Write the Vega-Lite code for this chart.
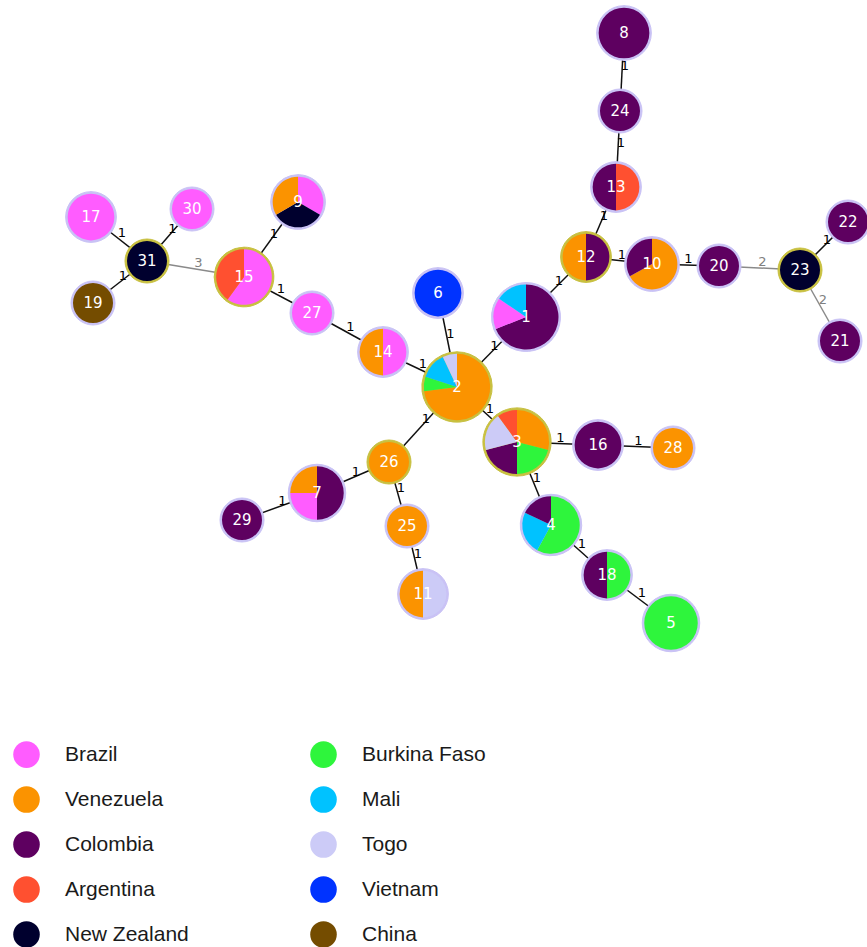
{
  "$schema": "https://vega.github.io/schema/vega-lite/v6.json",
  "width": 867,
  "height": 947,
  "padding": 0,
  "autosize": {"type": "none"},
  "background": "white",
  "config": {"view": {"stroke": null}},
  "resolve": {"scale": {"radius": "independent"}},
  "datasets": {
    "nodes": [
      {"id": 1, "x": 526, "y": 317, "n": 13, "b": "plain"},
      {"id": 2, "x": 457, "y": 387, "n": 15, "b": "group"},
      {"id": 3, "x": 517, "y": 442, "n": 12, "b": "group"},
      {"id": 4, "x": 551, "y": 525, "n": 6, "b": "plain"},
      {"id": 5, "x": 671, "y": 623, "n": 4, "b": "plain"},
      {"id": 6, "x": 438, "y": 293, "n": 2, "b": "plain"},
      {"id": 7, "x": 317, "y": 493, "n": 4, "b": "plain"},
      {"id": 8, "x": 624, "y": 33, "n": 3, "b": "plain"},
      {"id": 9, "x": 298, "y": 202, "n": 3, "b": "plain"},
      {"id": 10, "x": 652, "y": 264, "n": 3, "b": "plain"},
      {"id": 11, "x": 423, "y": 594, "n": 2, "b": "plain"},
      {"id": 12, "x": 586, "y": 257, "n": 2, "b": "group"},
      {"id": 13, "x": 616, "y": 187, "n": 2, "b": "plain"},
      {"id": 14, "x": 383, "y": 352, "n": 2, "b": "plain"},
      {"id": 15, "x": 244, "y": 277, "n": 5, "b": "group"},
      {"id": 16, "x": 598, "y": 445, "n": 2, "b": "plain"},
      {"id": 17, "x": 91, "y": 217, "n": 2, "b": "plain"},
      {"id": 18, "x": 607, "y": 575, "n": 2, "b": "plain"},
      {"id": 19, "x": 93, "y": 303, "n": 1, "b": "plain"},
      {"id": 20, "x": 719, "y": 266, "n": 1, "b": "plain"},
      {"id": 21, "x": 840, "y": 341, "n": 1, "b": "plain"},
      {"id": 22, "x": 848, "y": 222, "n": 1, "b": "plain"},
      {"id": 23, "x": 800, "y": 270, "n": 1, "b": "group"},
      {"id": 24, "x": 620, "y": 111, "n": 1, "b": "plain"},
      {"id": 25, "x": 407, "y": 526, "n": 1, "b": "plain"},
      {"id": 26, "x": 389, "y": 462, "n": 1, "b": "group"},
      {"id": 27, "x": 312, "y": 313, "n": 1, "b": "plain"},
      {"id": 28, "x": 673, "y": 448, "n": 1, "b": "plain"},
      {"id": 29, "x": 242, "y": 520, "n": 1, "b": "plain"},
      {"id": 30, "x": 192, "y": 209, "n": 1, "b": "plain"},
      {"id": 31, "x": 147, "y": 261, "n": 1, "b": "group"}
    ],
    "slices": [
      {"node": 1, "o": 1, "country": "Colombia", "pct": 69},
      {"node": 1, "o": 2, "country": "Brazil", "pct": 15.5},
      {"node": 1, "o": 3, "country": "Mali", "pct": 15.5},
      {"node": 2, "o": 1, "country": "Venezuela", "pct": 73},
      {"node": 2, "o": 2, "country": "Burkina Faso", "pct": 7},
      {"node": 2, "o": 3, "country": "Mali", "pct": 13},
      {"node": 2, "o": 4, "country": "Togo", "pct": 7},
      {"node": 3, "o": 1, "country": "Venezuela", "pct": 29},
      {"node": 3, "o": 2, "country": "Burkina Faso", "pct": 21},
      {"node": 3, "o": 3, "country": "Colombia", "pct": 21},
      {"node": 3, "o": 4, "country": "Togo", "pct": 19},
      {"node": 3, "o": 5, "country": "Argentina", "pct": 10},
      {"node": 4, "o": 1, "country": "Burkina Faso", "pct": 58},
      {"node": 4, "o": 2, "country": "Mali", "pct": 24},
      {"node": 4, "o": 3, "country": "Colombia", "pct": 18},
      {"node": 5, "o": 1, "country": "Burkina Faso", "pct": 100},
      {"node": 6, "o": 1, "country": "Vietnam", "pct": 100},
      {"node": 7, "o": 1, "country": "Colombia", "pct": 50},
      {"node": 7, "o": 2, "country": "Brazil", "pct": 25},
      {"node": 7, "o": 3, "country": "Venezuela", "pct": 25},
      {"node": 8, "o": 1, "country": "Colombia", "pct": 100},
      {"node": 9, "o": 1, "country": "Brazil", "pct": 33.3},
      {"node": 9, "o": 2, "country": "New Zealand", "pct": 33.3},
      {"node": 9, "o": 3, "country": "Venezuela", "pct": 33.4},
      {"node": 10, "o": 1, "country": "Venezuela", "pct": 67},
      {"node": 10, "o": 2, "country": "Colombia", "pct": 33},
      {"node": 11, "o": 1, "country": "Togo", "pct": 50},
      {"node": 11, "o": 2, "country": "Venezuela", "pct": 50},
      {"node": 12, "o": 1, "country": "Colombia", "pct": 50},
      {"node": 12, "o": 2, "country": "Venezuela", "pct": 50},
      {"node": 13, "o": 1, "country": "Argentina", "pct": 50},
      {"node": 13, "o": 2, "country": "Colombia", "pct": 50},
      {"node": 14, "o": 1, "country": "Brazil", "pct": 50},
      {"node": 14, "o": 2, "country": "Venezuela", "pct": 50},
      {"node": 15, "o": 1, "country": "Brazil", "pct": 60},
      {"node": 15, "o": 2, "country": "Argentina", "pct": 40},
      {"node": 16, "o": 1, "country": "Colombia", "pct": 100},
      {"node": 17, "o": 1, "country": "Brazil", "pct": 100},
      {"node": 18, "o": 1, "country": "Burkina Faso", "pct": 50},
      {"node": 18, "o": 2, "country": "Colombia", "pct": 50},
      {"node": 19, "o": 1, "country": "China", "pct": 100},
      {"node": 20, "o": 1, "country": "Colombia", "pct": 100},
      {"node": 21, "o": 1, "country": "Colombia", "pct": 100},
      {"node": 22, "o": 1, "country": "Colombia", "pct": 100},
      {"node": 23, "o": 1, "country": "New Zealand", "pct": 100},
      {"node": 24, "o": 1, "country": "Colombia", "pct": 100},
      {"node": 25, "o": 1, "country": "Venezuela", "pct": 100},
      {"node": 26, "o": 1, "country": "Venezuela", "pct": 100},
      {"node": 27, "o": 1, "country": "Brazil", "pct": 100},
      {"node": 28, "o": 1, "country": "Venezuela", "pct": 100},
      {"node": 29, "o": 1, "country": "Colombia", "pct": 100},
      {"node": 30, "o": 1, "country": "Brazil", "pct": 100},
      {"node": 31, "o": 1, "country": "New Zealand", "pct": 100}
    ],
    "edges": [
      {"s": 8, "t": 24, "d": 1},
      {"s": 24, "t": 13, "d": 1},
      {"s": 13, "t": 12, "d": 1},
      {"s": 12, "t": 1, "d": 1},
      {"s": 12, "t": 10, "d": 1},
      {"s": 10, "t": 20, "d": 1},
      {"s": 20, "t": 23, "d": 2},
      {"s": 23, "t": 22, "d": 1},
      {"s": 23, "t": 21, "d": 2},
      {"s": 1, "t": 2, "d": 1},
      {"s": 6, "t": 2, "d": 1},
      {"s": 14, "t": 2, "d": 1},
      {"s": 27, "t": 14, "d": 1},
      {"s": 15, "t": 27, "d": 1},
      {"s": 15, "t": 9, "d": 1},
      {"s": 31, "t": 15, "d": 3},
      {"s": 17, "t": 31, "d": 1},
      {"s": 30, "t": 31, "d": 1},
      {"s": 19, "t": 31, "d": 1},
      {"s": 2, "t": 3, "d": 1},
      {"s": 2, "t": 26, "d": 1},
      {"s": 26, "t": 7, "d": 1},
      {"s": 29, "t": 7, "d": 1},
      {"s": 26, "t": 25, "d": 1},
      {"s": 25, "t": 11, "d": 1},
      {"s": 3, "t": 16, "d": 1},
      {"s": 16, "t": 28, "d": 1},
      {"s": 3, "t": 4, "d": 1},
      {"s": 4, "t": 18, "d": 1},
      {"s": 18, "t": 5, "d": 1}
    ]
  },
  "layer": [
    {
      "data": {"name": "edges"},
      "transform": [
        {"fold": ["s", "t"], "as": ["end", "node"]},
        {"lookup": "node", "from": {"data": {"name": "nodes"}, "key": "id", "fields": ["x", "y"]}}
      ],
      "mark": {"type": "line", "strokeWidth": 1.5},
      "encoding": {
        "x": {"field": "x", "type": "quantitative", "scale": {"domain": [0, 867], "nice": false, "zero": false}, "axis": null},
        "y": {"field": "y", "type": "quantitative", "scale": {"domain": [0, 947], "reverse": true, "nice": false, "zero": false}, "axis": null},
        "detail": [{"field": "s"}, {"field": "t"}],
        "order": {"field": "end"},
        "stroke": {"condition": {"test": "datum.d > 1", "value": "#8a8a8a"}, "value": "#111111"}
      }
    },
    {
      "data": {"name": "edges"},
      "transform": [
        {"fold": ["s", "t"], "as": ["end", "node"]},
        {"lookup": "node", "from": {"data": {"name": "nodes"}, "key": "id", "fields": ["x", "y"]}},
        {"aggregate": [{"op": "mean", "field": "x", "as": "mx"}, {"op": "mean", "field": "y", "as": "my"}], "groupby": ["s", "t", "d"]}
      ],
      "mark": {"type": "text", "font": "DejaVu Sans", "fontSize": 13, "dx": 3, "dy": -6},
      "encoding": {
        "x": {"field": "mx", "type": "quantitative"},
        "y": {"field": "my", "type": "quantitative"},
        "text": {"field": "d", "type": "nominal"},
        "fill": {"condition": {"test": "datum.d > 1", "value": "#808080"}, "value": "#000000"}
      }
    },
    {
      "data": {"name": "slices"},
      "transform": [
        {"lookup": "node", "from": {"data": {"name": "nodes"}, "key": "id", "fields": ["x", "y", "n", "b"]}},
        {"stack": "pct", "groupby": ["node"], "sort": [{"field": "o", "order": "ascending"}], "offset": "normalize", "as": ["t0", "t1"]}
      ],
      "mark": {"type": "arc", "strokeWidth": 1},
      "encoding": {
        "x": {"field": "x", "type": "quantitative"},
        "y": {"field": "y", "type": "quantitative"},
        "theta": {"field": "t0", "type": "quantitative", "stack": null, "scale": {"domain": [0, 1], "range": [0, 6.283185]}},
        "theta2": {"field": "t1"},
        "radius": {"field": "n", "type": "quantitative", "scale": {"type": "log", "domain": [1, 16], "range": [22, 35.5], "nice": false}, "legend": null},
        "radius2": {"value": 0},
        "fill": {"condition": {"test": "datum.b === 'group'", "value": "#c8c040"}, "value": "#c9c2f5"},
        "stroke": {"condition": {"test": "datum.b === 'group'", "value": "#c8c040"}, "value": "#c9c2f5"}
      }
    },
    {
      "data": {"name": "slices"},
      "transform": [
        {"lookup": "node", "from": {"data": {"name": "nodes"}, "key": "id", "fields": ["x", "y", "n"]}},
        {"stack": "pct", "groupby": ["node"], "sort": [{"field": "o", "order": "ascending"}], "offset": "normalize", "as": ["t0", "t1"]}
      ],
      "mark": {"type": "arc"},
      "encoding": {
        "x": {"field": "x", "type": "quantitative"},
        "y": {"field": "y", "type": "quantitative"},
        "theta": {"field": "t0", "type": "quantitative", "stack": null, "scale": {"domain": [0, 1], "range": [0, 6.283185]}},
        "theta2": {"field": "t1"},
        "radius": {"field": "n", "type": "quantitative", "scale": {"type": "log", "domain": [1, 16], "range": [20, 33.5], "nice": false}, "legend": null},
        "radius2": {"value": 0},
        "color": {
          "field": "country",
          "type": "nominal",
          "scale": {
            "domain": ["Brazil", "Burkina Faso", "Venezuela", "Mali", "Colombia", "Togo", "Argentina", "Vietnam", "New Zealand", "China"],
            "range": ["#ff5cff", "#2ef53c", "#fb9300", "#00c2ff", "#5e0060", "#cccbf7", "#ff5030", "#0033ff", "#00002e", "#744c00"]
          },
          "legend": {
            "title": null,
            "orient": "none",
            "legendX": 13,
            "legendY": 741,
            "columns": 2,
            "direction": "horizontal",
            "padding": 0,
            "symbolType": "circle",
            "symbolSize": 706,
            "symbolStrokeWidth": 0,
            "labelFont": "Liberation Sans",
            "labelFontSize": 21,
            "labelColor": "#1a1a1a",
            "labelOffset": 25,
            "labelLimit": 300,
            "rowPadding": 18,
            "columnPadding": 121,
            "gridAlign": "each"
          }
        }
      }
    },
    {
      "data": {"name": "nodes"},
      "mark": {"type": "text", "font": "DejaVu Sans", "fontSize": 15, "color": "white", "baseline": "middle", "align": "center"},
      "encoding": {
        "x": {"field": "x", "type": "quantitative"},
        "y": {"field": "y", "type": "quantitative"},
        "text": {"field": "id", "type": "nominal"}
      }
    }
  ]
}
